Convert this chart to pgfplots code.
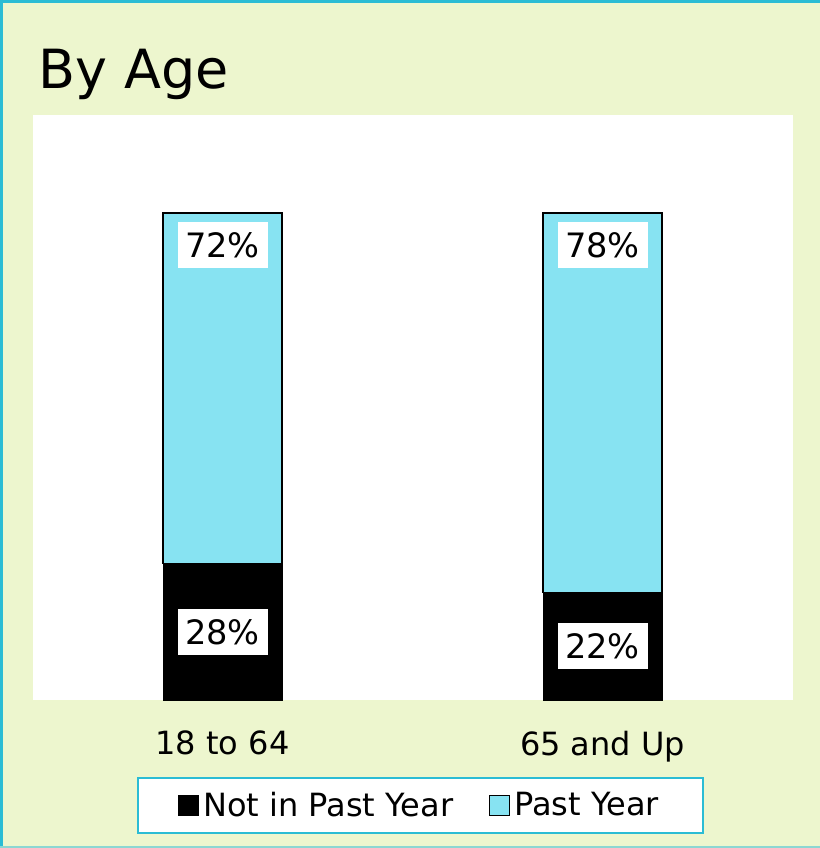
\documentclass[border=0pt]{standalone}
\usepackage{pgfplots}
\pgfplotsset{compat=1.18}
\usepackage{fontspec}
\setmainfont{DejaVu Sans}
\definecolor{bg}{RGB}{237,246,206}
\definecolor{cyanbar}{RGB}{135,227,242}
\definecolor{frame}{RGB}{43,188,212}
\definecolor{framelight}{RGB}{140,215,210}
\begin{document}
\begin{tikzpicture}[lab/.style={fill=white, font=\fontsize{16.8}{19}\selectfont, minimum width=45pt, minimum height=23pt, inner sep=0pt}]
\useasboundingbox (0pt,0pt) rectangle (410pt,-424pt);
\fill[bg] (0pt,0pt) rectangle (410pt,-424pt);
\draw[frame,line width=1.5pt] (412pt,-0.75pt) -- (0.75pt,-0.75pt) -- (0.75pt,-423pt);
\draw[framelight,line width=0.8pt] (0pt,-423.4pt) -- (412pt,-423.4pt);
\node[anchor=base west,font=\fontsize{27}{30}\selectfont,inner sep=0pt] at (19pt,-44pt) {By Age};
\begin{axis}[
  at={(16.5pt,-350pt)}, anchor=south west,
  scale only axis, width=380pt, height=292.5pt,
  xmin=33, xmax=793, ymin=0, ymax=120.1,
  ybar stacked, bar width=59.5pt,
  axis background/.style={fill=white},
  axis line style={draw=none},
  major tick length=0pt,
  ytick=\empty,
  xtick={222.5,602.5},
  xticklabels={18 to 64, 65 and Up},
  xticklabel style={font=\fontsize{16}{19}\selectfont, yshift=-12pt},
  legend style={at={(0.51,-0.1803)}, anchor=center, draw=frame, line width=0.8pt,
    legend columns=2, font=\fontsize{16}{19}\selectfont,
    inner xsep=20pt, inner ysep=5pt,
    /tikz/every even column/.append style={column sep=16pt}},
  legend image code/.code={\draw[#1,draw=black,line width=0.5pt] (0pt,-5pt) rectangle (10pt,5pt);},
  clip=false,
]
\addplot[fill=black, draw=black] coordinates {(222.5,28) (602.5,22)};
\addlegendentry{Not in Past Year}
\addplot[fill=cyanbar, draw=black, line width=0.6pt] coordinates {(222.5,72) (602.5,78)};
\addlegendentry{Past Year}
\coordinate (l1) at (axis cs:222.5,14);
\coordinate (l2) at (axis cs:602.5,11);
\coordinate (l3) at (axis cs:222.5,93.4);
\coordinate (l4) at (axis cs:602.5,93.4);
\end{axis}
\node[lab] at (l1) {28\%};
\node[lab] at (l2) {22\%};
\node[lab] at (l3) {72\%};
\node[lab] at (l4) {78\%};
\end{tikzpicture}
\end{document}
